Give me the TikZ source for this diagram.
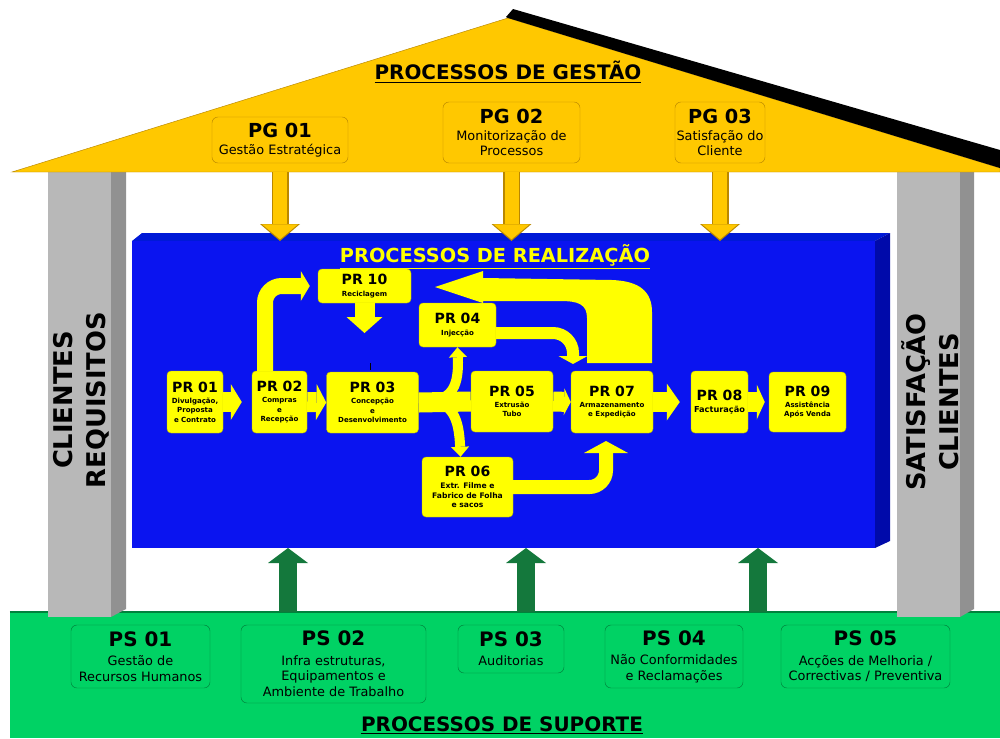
\documentclass[tikz,border=0pt]{standalone}
\usepackage{fontspec}
\setmainfont{DejaVu Sans}
\usetikzlibrary{arrows.meta}

\definecolor{roof}{RGB}{255,200,0}
\definecolor{roofline}{RGB}{185,135,0}
\definecolor{pillar}{RGB}{184,184,184}
\definecolor{pillarside}{RGB}{145,145,145}
\definecolor{realblue}{RGB}{10,20,240}
\definecolor{realtop}{RGB}{0,25,215}
\definecolor{realside}{RGB}{0,10,170}
\definecolor{pryellow}{RGB}{255,255,0}
\definecolor{supgreen}{RGB}{0,210,100}
\definecolor{supline}{RGB}{0,130,60}
\definecolor{suparrow}{RGB}{20,120,60}

\newcommand\prt[1]{{\fontsize{12}{13}\selectfont #1}\\[1.5pt]}
\newcommand\pgt[1]{{\fontsize{16.5}{17}\selectfont\bfseries #1}\\[2pt]}
\newcommand\pst[1]{{\fontsize{17}{18}\selectfont\bfseries #1}\\[3pt]}

\tikzset{
  pgbox/.style={draw=roofline, rounded corners=1.8mm, align=center, inner sep=0pt,
    font=\fontsize{11}{13}\selectfont},
  psbox/.style={draw=supline, rounded corners=1.8mm, align=center, inner sep=0pt,
    font=\fontsize{11}{13.5}\selectfont},
  prbox/.style={fill=pryellow, draw=pryellow!75!black, rounded corners=1.2mm, align=center,
    inner sep=0pt, font=\bfseries\fontsize{6}{8}\selectfont},
  fat/.style={draw=pryellow, line width=#1},
  fathead/.style 2 args={-{Triangle[width=#1,length=#2,line width=0pt]}},
  gestout/.style={draw=roofline, line width=5.1mm, fathead={12mm}{5.1mm}},
  gestin/.style={draw=roof, line width=4.2mm, fathead={10.8mm}{4.5mm}, shorten >=0.5mm},
  suparr/.style={draw=suparrow, line width=5.4mm, fathead={12mm}{4.5mm}},
  bigtitle/.style={font=\bfseries\fontsize{17}{19}\selectfont},
  pillartext/.style={rotate=90, align=center, font=\bfseries\fontsize{22}{28}\selectfont}
}

\begin{document}
\begin{tikzpicture}[x=0.3mm, y=-0.3mm]

\fill[white] (0,0) rectangle (1000,738);
\useasboundingbox (0,0) rectangle (1000,738);

% support base
\node[fill=supgreen, minimum width=297mm, minimum height=37.8mm, inner sep=0pt, outer sep=0pt] (sup) at (505,675) {};
\draw[supline, line width=1pt] (sup.north west) -- (sup.north east);

% pillars
\fill[pillar] (48,172) rectangle (111,617);
\fill[pillarside] (111,172) -- (126,172) -- (126,609) -- (111,617) -- cycle;
\fill[pillar] (897,172) rectangle (960,617);
\fill[pillarside] (960,172) -- (974,172) -- (974,609) -- (960,617) -- cycle;
\node[pillartext] (req) at (81,400) {CLIENTES\\REQUISITOS};
\node[pillartext] (sat) at (930,402) {SATISFAÇÃO\\CLIENTES};

% roof
\filldraw[fill=roof, draw=roofline] (12,172) -- (508,18) -- (1000,168) -- (1000,172) -- cycle;
\fill (506,17) -- (513,9) -- (1000,150) -- (1000,168) -- (508,18) -- cycle;
\coordinate (eaves) at (0,172);
\node[bigtitle] (gest) at (508,72) {\underline{PROCESSOS DE GESTÃO}};

\node[pgbox, minimum width=40.8mm, minimum height=13.8mm] (pg1) at (280,140) {\pgt{PG 01}Gestão Estratégica};
\node[pgbox, minimum width=41.1mm, minimum height=18.3mm] (pg2) at (511.5,132.5) {\pgt{PG 02}Monitorização de\\Processos};
\node[pgbox, minimum width=27mm, minimum height=18.3mm] (pg3) at (720,132.5) {\pgt{PG 03}Satisfação do\\Cliente};

% realization block
\fill[realtop] (132,241) -- (142,233) -- (890,233) -- (875,241) -- cycle;
\fill[realside] (875,241) -- (890,233) -- (890,541) -- (875,548) -- cycle;
\node[fill=realblue, minimum width=222.9mm, minimum height=92.1mm, inner sep=0pt, outer sep=0pt] (real) at (503.5,394.5) {};
\node[text=pryellow, font=\bfseries\fontsize{16.5}{19}\selectfont] (realt) at (495,257) {\underline{PROCESSOS DE REALIZAÇÃO}};

\foreach \p in {pg1,pg2,pg3} {
  \draw[gestout] (\p.south |- eaves) -- (\p.south |- real.north);
  \draw[gestin] (\p.south |- eaves) -- (\p.south |- real.north);
}

\coordinate (s1) at (288,612);
\coordinate (s2) at (526,612);
\coordinate (s3) at (758,612);
\foreach \s in {s1,s2,s3}
  \draw[suparr] (\s) -- (\s |- real.south);

% flow
\coordinate (c10) at (364.5,333);
\coordinate (split) at (432,401);
\coordinate (c47) at (573,364);
\coordinate (c67) at (606,441);

\fill[pryellow] (587,363) -- (587,318) .. controls (587,304) and (578,301) .. (560,301) -- (483,301) -- (483,303)
  -- (435,287) -- (483,271) -- (483,278) -- (612,280) .. controls (640,281) and (652,292) .. (652,312)
  -- (652,363) -- cycle;

\node[prbox, minimum width=16.8mm, minimum height=18.6mm] (pr1) at (195,402) {\prt{PR 01}Divulgação,\\Proposta\\e Contrato};
\node[prbox, minimum width=16.5mm, minimum height=18.6mm] (pr2) at (279.5,402) {\prt{PR 02}Compras\\e\\Recepção};
\node[prbox, minimum width=27.6mm, minimum height=18.3mm] (pr3) at (372.5,402.5) {\prt{PR 03}Concepção\\e\\Desenvolvimento};
\node[prbox, minimum width=23.1mm, minimum height=13.2mm] (pr4) at (457.5,325) {\prt{PR 04}Injecção};
\node[prbox, minimum width=24.6mm, minimum height=18.3mm] (pr5) at (512,401.5) {\prt{PR 05}Extrusão\\Tubo};
\node[prbox, minimum width=27.3mm, minimum height=18mm, font=\bfseries\fontsize{6.5}{8.5}\selectfont] (pr6) at (467.5,487) {\prt{PR 06}Extr. Filme e\\Fabrico de Folha\\e sacos};
\node[prbox, minimum width=24.6mm, minimum height=18.6mm] (pr7) at (612,402) {\prt{PR 07}Armazenamento\\e Expedição};
\node[prbox, minimum width=17.1mm, minimum height=18.6mm, font=\bfseries\fontsize{7}{8.5}\selectfont] (pr8) at (719.5,402) {\prt{PR 08}Facturação};
\node[prbox, minimum width=23.1mm, minimum height=18mm] (pr9) at (807.5,402) {\prt{PR 09}Assistência\\Após Venda};
\node[prbox, minimum width=27.9mm, minimum height=10.2mm] (pr10) at (364.5,286) {\prt{PR 10}Reciclagem};

\draw[fat=6mm, fathead={10.8mm}{3.3mm}] (pr1.east) -- ([xshift=-3mm]pr2.west);
\draw[fat=6mm, fathead={10.8mm}{3mm}] (pr2.east) -- (pr3.west);
\draw[fat=4.8mm, rounded corners=5mm, fathead={9mm}{2.7mm}] ([xshift=-4.35mm]pr2.north) |- ([xshift=-2.4mm]pr10.west);
\draw[fat=6mm, fathead={10.8mm}{4.8mm}] (pr10.south) -- (c10);
\draw[line width=0.6pt] (370,363) -- (370,370);
\draw[fat=6mm] (pr3.east) -- (pr5.west);
\draw[fat=3mm, fathead={5.4mm}{3mm}] (split) .. controls (452,398) and (459,386) .. (pr4.south);
\draw[fat=3mm, fathead={5.4mm}{3mm}] (split) .. controls (452,404) and (459,418) .. ([xshift=-2.1mm]pr6.north);
\draw[fat=6mm, fathead={8mm}{2mm}] (pr5.east) -- (pr7.west);
\draw[fat=3.6mm, rounded corners=6mm, fathead={8.7mm}{2.4mm}] ([yshift=-2.4mm]pr4.east) -| (c47);
\draw[fat=4.2mm, rounded corners=5mm, fathead={13.2mm}{3.6mm}] ([xshift=-2.4mm]pr6.east) -| (c67);
\draw[fat=6mm, fathead={11.1mm}{3.9mm}] (pr7.east) -- ([xshift=-3.3mm]pr8.west);
\draw[fat=6mm, fathead={10.5mm}{2.4mm}] (pr8.east) -- ([xshift=-1.2mm]pr9.west);

% support
\node[psbox, minimum width=41.7mm, minimum height=18.9mm] (ps1) at (140.5,656.5) {\pst{PS 01}Gestão de\\Recursos Humanos};
\node[psbox, minimum width=55.5mm, minimum height=23.4mm] (ps2) at (333.5,664) {\pst{PS 02}Infra estruturas,\\Equipamentos e\\Ambiente de Trabalho};
\node[psbox, minimum width=31.8mm, minimum height=14.4mm] (ps3) at (511,649) {\pst{PS 03}Auditorias};
\node[psbox, minimum width=41.4mm, minimum height=18.9mm] (ps4) at (674,656.5) {\pst{PS 04}Não Conformidades\\e Reclamações};
\node[psbox, minimum width=50.7mm, minimum height=18.9mm] (ps5) at (865.5,656.5) {\pst{PS 05}Acções de Melhoria /\\Correctivas / Preventiva};
\node[bigtitle] (supt) at (502,725) {\underline{PROCESSOS DE SUPORTE}};

\end{tikzpicture}
\end{document}
